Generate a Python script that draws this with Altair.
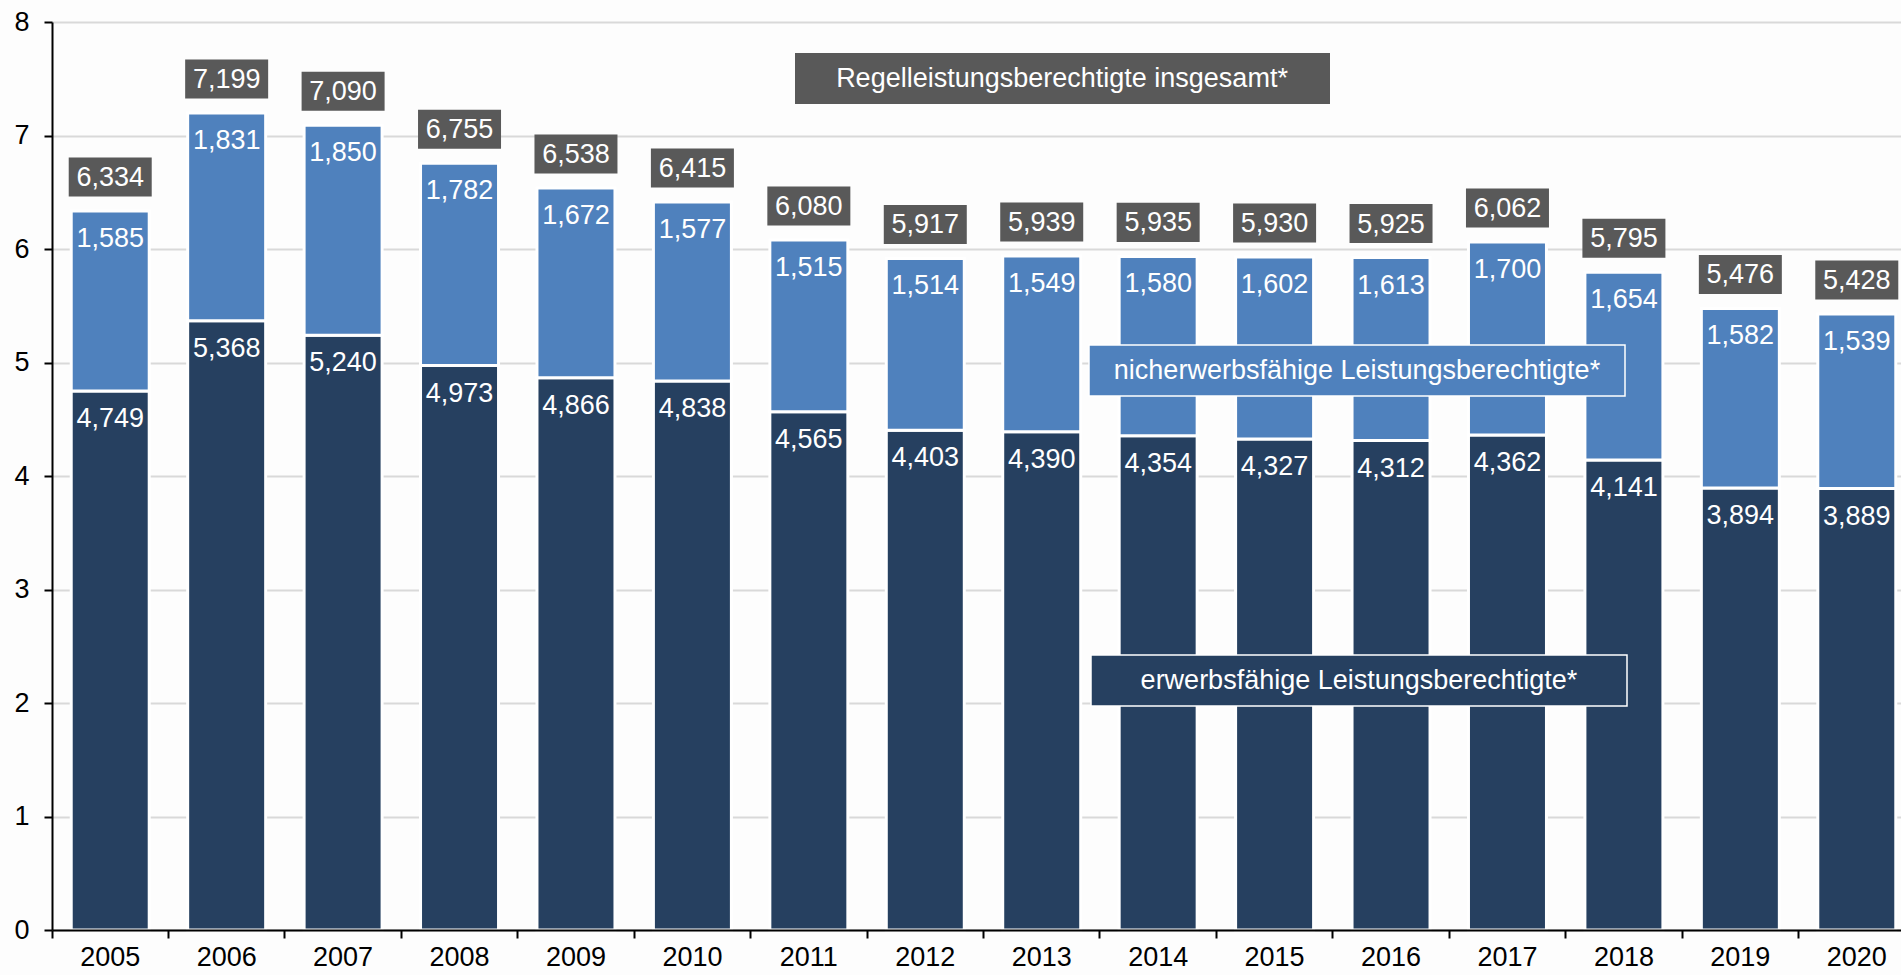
import altair as alt
import pandas as pd

years = [str(y) for y in range(2005, 2021)]
erwerbsfaehig = [4749, 5368, 5240, 4973, 4866, 4838, 4565, 4403, 4390, 4354, 4327, 4312, 4362, 4141, 3894, 3889]
nicht_erwerbsfaehig = [1585, 1831, 1850, 1782, 1672, 1577, 1515, 1514, 1549, 1580, 1602, 1613, 1700, 1654, 1582, 1539]
insgesamt = [6334, 7199, 7090, 6755, 6538, 6415, 6080, 5917, 5939, 5935, 5930, 5925, 6062, 5795, 5476, 5428]
y_ticks = [0, 1, 2, 3, 4, 5, 6, 7, 8]
label_total = "Regelleistungsberechtigte insgesamt*"
label_nicht = "nicherwerbsfähige Leistungsberechtigte*"
label_erwerb = "erwerbsfähige Leistungsberechtigte*"

NAVY = "#264060"
BLUE = "#4f81bd"
GREY = "#595959"
FONT = "Liberation Sans"

df = pd.DataFrame({
    "year": years,
    "e": erwerbsfaehig,
    "n": nicht_erwerbsfaehig,
    "t": insgesamt,
})
df["e_m"] = df["e"] / 1000
df["top_m"] = (df["e"] + df["n"]) / 1000
df["t_m"] = df["t"] / 1000

base = alt.Chart(df)

x_enc = alt.X(
    "year:N",
    sort=years,
    scale=alt.Scale(range=[0, 1863], paddingInner=0, paddingOuter=0),
    axis=alt.Axis(
        title=None, labelAngle=0, labelFontSize=27, labelFont=FONT, labelColor="black",
        domainColor="black", domainWidth=2, tickColor="black", tickWidth=2, tickSize=8,
        bandPosition=0, labelPadding=6, grid=False, zindex=1,
    ),
)
y_scale = alt.Scale(domain=[0, 8], nice=False, zero=True)

dark = base.mark_bar(size=78, color=NAVY, stroke="white", strokeWidth=3).encode(
    x=x_enc,
    y=alt.Y(
        "e_m:Q", scale=y_scale,
        axis=alt.Axis(
            title=None, values=y_ticks, format="d", labelFontSize=27, labelFont=FONT, labelColor="black",
            grid=True, gridColor="#d9d9d9", gridWidth=2, domainColor="black", domainWidth=2,
            tickColor="black", tickWidth=2, tickSize=8, labelPadding=15,
        ),
    ),
    y2=alt.datum(0),
)
light = base.mark_bar(size=78, color=BLUE, stroke="white", strokeWidth=3).encode(
    x=alt.X("year:N", sort=years),
    y=alt.Y("top_m:Q", scale=y_scale),
    y2="e_m:Q",
)

dark_lbl = base.mark_text(color="white", font=FONT, fontSize=27, baseline="middle", dy=28).encode(
    x=alt.X("year:N", sort=years), y=alt.Y("e_m:Q"), text=alt.Text("e:Q", format=",")
)
light_lbl = base.mark_text(color="white", font=FONT, fontSize=27, baseline="middle", dy=28).encode(
    x=alt.X("year:N", sort=years), y=alt.Y("top_m:Q"), text=alt.Text("n:Q", format=",")
)
tot_box = base.mark_point(
    shape="M-1,-0.47L1,-0.47L1,0.47L-1,0.47Z", size=83 * 83, filled=True, opacity=1,
    color=GREY, strokeWidth=0, yOffset=-34,
).encode(x=alt.X("year:N", sort=years), y=alt.Y("t_m:Q"))
tot_lbl = base.mark_text(color="white", font=FONT, fontSize=27, baseline="middle", dy=-33).encode(
    x=alt.X("year:N", sort=years), y=alt.Y("t_m:Q"), text=alt.Text("t:Q", format=",")
)

ann = alt.Chart(pd.DataFrame({"k": [0]}))
box1 = ann.mark_rect(color=GREY).encode(
    x=alt.value(743), x2=alt.value(1278), y=alt.value(31), y2=alt.value(82)
)
txt1 = ann.mark_text(color="white", font=FONT, fontSize=27, baseline="middle", text=label_total).encode(
    x=alt.value(1010), y=alt.value(57)
)
box2 = ann.mark_rect(color=BLUE, stroke="white", strokeWidth=1.5).encode(
    x=alt.value(1037), x2=alt.value(1573), y=alt.value(323), y2=alt.value(374)
)
txt2 = ann.mark_text(color="white", font=FONT, fontSize=27, baseline="middle", text=label_nicht).encode(
    x=alt.value(1305), y=alt.value(349)
)
box3 = ann.mark_rect(color=NAVY, stroke="white", strokeWidth=1.5).encode(
    x=alt.value(1039), x2=alt.value(1575), y=alt.value(633), y2=alt.value(684)
)
txt3 = ann.mark_text(color="white", font=FONT, fontSize=27, baseline="middle", text=label_erwerb).encode(
    x=alt.value(1307), y=alt.value(659)
)

chart = alt.layer(
    dark, light, dark_lbl, light_lbl, tot_box, tot_lbl, box1, txt1, box2, txt2, box3, txt3
).properties(
    width=1849, height=908,
    autosize=alt.AutoSizeParams(type="none"),
    padding={"left": 52, "top": 22, "right": 0, "bottom": 45},
    background="#fdfdfd",
).configure_view(stroke=None)

chart.save("out.html", embed_options={"renderer": "svg", "actions": False})
